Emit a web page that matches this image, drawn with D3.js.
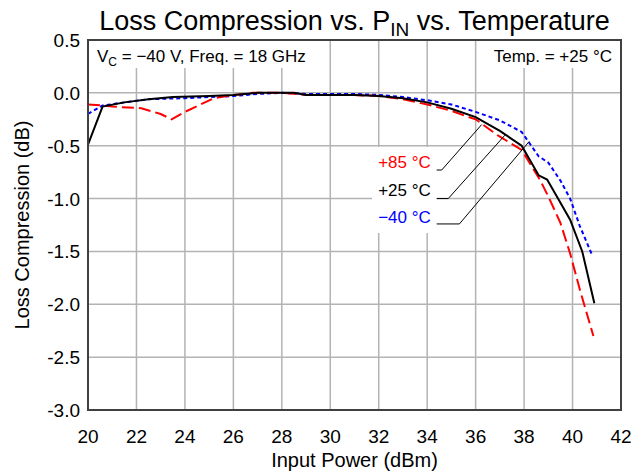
<!DOCTYPE html>
<html><head><meta charset="utf-8">
<script src="https://cdn.jsdelivr.net/npm/d3@7"></script>
<style>body{margin:0;background:#fff}svg{display:block;font-family:"Liberation Sans",Arial,sans-serif}</style>
</head><body><svg id="c" width="641" height="473"></svg>
<script>
// ---- data ----
const xTicks = [20,22,24,26,28,30,32,34,36,38,40,42];
const yTicks = [0.5,0.0,-0.5,-1.0,-1.5,-2.0,-2.5,-3.0];
const yTickLabels = ["0.5","0.0","-0.5","-1.0","-1.5","-2.0","-2.5","-3.0"];

const x25 = [20,20.6,21.5,22.5,23.5,25,26,27,28,28.5,29,30,31,32,33,34,35,36,37,37.9,38.6,38.95,39.4,39.9,40.4,40.9];
const y25 = [-0.49,-0.13,-0.09,-0.06,-0.04,-0.03,-0.02,0.0,0.0,0.0,-0.02,-0.02,-0.02,-0.03,-0.05,-0.09,-0.15,-0.23,-0.36,-0.5,-0.78,-0.82,-1.0,-1.2,-1.5,-1.99];

const xM40 = [20,20.6,21.5,22.5,24,26,27,28,29,30,31,32,33,34,35,36,37,37.9,38.6,39.0,39.5,39.9,40.3,40.8];
const yM40 = [-0.2,-0.12,-0.09,-0.06,-0.05,-0.03,-0.01,0.0,-0.01,-0.01,-0.01,-0.02,-0.04,-0.07,-0.11,-0.18,-0.26,-0.37,-0.6,-0.66,-0.83,-1.0,-1.26,-1.53];

const x85 = [20,20.6,21,22.2,23,23.45,24,25.2,26,26.8,28,29,30,31,32,33,34,35,35.6,36,36.9,37.9,38.65,39.0,39.5,39.9,40.3,40.86];
const y85 = [-0.11,-0.12,-0.13,-0.145,-0.2,-0.25,-0.18,-0.05,-0.02,0.0,0.0,-0.02,-0.02,-0.02,-0.03,-0.06,-0.11,-0.17,-0.22,-0.25,-0.4,-0.54,-0.82,-0.98,-1.23,-1.52,-1.86,-2.3];

const seriesNames = ["+85 °C","+25 °C","\u221240 °C"];
const seriesColors = ["#ff0000","#000000","#0000ff"];
// label positions (data units): text y, leader y, knee x, target x/y
const labelTextY = [-0.71,-0.98,-1.23];
const labelLineY = [-0.73,-1.0,-1.24];
const kneeX = [34.6,34.87,35.33];
const targetX = [36.25,37.21,38.21];
const targetY = [-0.30,-0.40,-0.46];

// ---- layout ----
const svg = d3.select("#c");
const L=88, R=621, T=40, B=410;
const x = d3.scaleLinear().domain([20,42]).range([L,R]);
const y = d3.scaleLinear().domain([-3,0.5]).range([B,T]);

// grid
const grid = svg.append("g").attr("stroke","#b3b3b3").attr("stroke-width",1.5);
grid.selectAll(".v").data(xTicks.slice(1,-1)).join("line")
  .attr("x1",d=>x(d)).attr("x2",d=>x(d)).attr("y1",T).attr("y2",B);
grid.selectAll(".h").data(yTicks.slice(1,-1)).join("line")
  .attr("y1",d=>y(d)).attr("y2",d=>y(d)).attr("x1",L).attr("x2",R);

// white boxes for annotations
svg.append("rect").attr("x",L+1).attr("y",T+1).attr("width",229).attr("height",27).attr("fill","#fff");
svg.append("rect").attr("x",481).attr("y",T+1).attr("width",R-481-1).attr("height",27).attr("fill","#fff");
svg.append("rect").attr("x",372).attr("y",147).attr("width",65).attr("height",86).attr("fill","#fff");

// lines
const line = d3.line().x(d=>x(d[0])).y(d=>y(d[1]));
const series = [
  {xs:x85, ys:y85, color:seriesColors[0], dash:"12,5"},
  {xs:x25, ys:y25, color:seriesColors[1], dash:null},
  {xs:xM40, ys:yM40, color:seriesColors[2], dash:"4,3"}
];
svg.append("g").selectAll("path").data([series[2],series[0],series[1]]).join("path")
  .attr("d",s=>line(s.xs.map((v,i)=>[v,s.ys[i]])))
  .attr("fill","none").attr("stroke",s=>s.color).attr("stroke-width",2)
  .attr("stroke-dasharray",s=>s.dash);

// frame
svg.append("rect").attr("x",L).attr("y",T).attr("width",R-L).attr("height",B-T)
  .attr("fill","none").attr("stroke","#404040").attr("stroke-width",2);

// axes labels
svg.append("g").selectAll("text").data(xTicks).join("text")
  .attr("x",d=>x(d)).attr("y",B+33).attr("text-anchor","middle").attr("font-size",19).text(d=>d);
svg.append("g").selectAll("text").data(yTicks).join("text")
  .attr("x",L-8).attr("y",d=>y(d)+7).attr("text-anchor","end").attr("font-size",19).text((d,i)=>yTickLabels[i]);

svg.append("text").attr("x",(L+R)/2).attr("y",467).attr("text-anchor","middle").attr("font-size",20).text("Input Power (dBm)");
svg.append("text").attr("transform",`translate(29,${(T+B)/2}) rotate(-90)`).attr("text-anchor","middle").attr("font-size",20).text("Loss Compression (dB)");

// title
const t = svg.append("text").attr("x",(L+R)/2).attr("y",30).attr("text-anchor","middle").attr("font-size",27);
t.append("tspan").text("Loss Compression vs. P");
t.append("tspan").attr("font-size",19).attr("dy",6).text("IN");
t.append("tspan").attr("dy",-6).text(" vs. Temperature");

// annotations
const a = svg.append("text").attr("x",97).attr("y",62).attr("font-size",17);
a.append("tspan").text("V");
a.append("tspan").attr("font-size",12).attr("dy",4).text("C");
a.append("tspan").attr("dy",-4).text(" = \u221240 V, Freq. = 18 GHz");
svg.append("text").attr("x",612).attr("y",62).attr("text-anchor","end").attr("font-size",17).text("Temp. = +25 °C");

// series labels + leaders
const lab = svg.append("g");
seriesNames.forEach((n,i)=>{
  lab.append("text").attr("x",x(34.15)).attr("y",y(labelTextY[i])).attr("text-anchor","end")
    .attr("font-size",17).attr("fill",seriesColors[i]).text(n);
  lab.append("polyline").attr("points",[[x(34.39),y(labelLineY[i])],[x(kneeX[i]),y(labelLineY[i])],[x(targetX[i]),y(targetY[i])]].map(p=>p.join(",")).join(" "))
    .attr("fill","none").attr("stroke","#000").attr("stroke-width",1);
});
</script></body></html>
